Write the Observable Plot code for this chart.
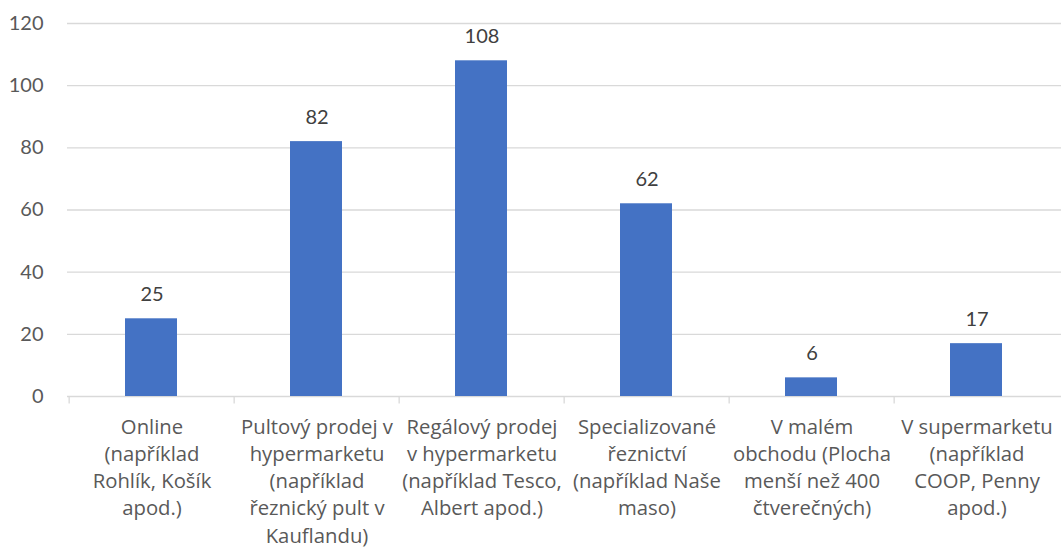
<!DOCTYPE html>
<html><head><meta charset="utf-8">
<script src="https://cdn.jsdelivr.net/npm/d3@7"></script>
<script src="https://cdn.jsdelivr.net/npm/@observablehq/plot@0.6"></script>
<style>body{margin:0;background:#fff;} svg{display:block;}</style>
</head><body><div id="chart"></div>
<script>
const categories = [
  "Online\n(například\nRohlík, Košík\napod.)",
  "Pultový prodej v\nhypermarketu\n(například\nřeznický pult v\nKauflandu)",
  "Regálový prodej\nv hypermarketu\n(například Tesco,\nAlbert apod.)",
  "Specializované\nřeznictví\n(například Naše\nmaso)",
  "V malém\nobchodu (Plocha\nmenší než 400\nčtverečných)",
  "V supermarketu\n(například\nCOOP, Penny\napod.)"
];
const values = [25, 82, 108, 62, 6, 17];
const yTicks = [0, 20, 40, 60, 80, 100, 120];

const data = categories.map((c, i) => ({cat: c, value: values[i]}));
const W = 1061, H = 555, mL = 67, mR = 0;
const band = (W - mL - mR) / categories.length;
const font = "Lato, 'Open Sans', sans-serif";

const chart = Plot.plot({
  width: W, height: H,
  marginLeft: mL, marginRight: mR, marginTop: 23, marginBottom: 159,
  style: {fontFamily: font, fontSize: "20px", color: "#595959", background: "#fff"},
  x: {domain: categories, padding: 0, axis: null},
  y: {domain: [0, 120], ticks: yTicks, tickSize: 0, tickPadding: 24, label: null},
  marks: [
    Plot.ruleY(yTicks, {stroke: "#d9d9d9", strokeWidth: 1.3}),
    Plot.ruleX(categories, {x: d => d, dx: -band / 2, y1: 0, y2: -2.4, stroke: "#d9d9d9", strokeWidth: 1.3}),
    Plot.barY(data, {x: "cat", y: "value", fill: "#4472c4", insetLeft: 56, insetRight: 57}),
    Plot.text(data, {x: "cat", y: "value", text: d => String(d.value), dy: -24, fill: "#404040", fontSize: 20, lineAnchor: "middle"}),
    Plot.text(data, {x: "cat", y: 0, text: "cat", dy: 18, lineAnchor: "top", lineHeight: 1.34, fill: "#595959", fontSize: 20.3, fontFamily: "'Open Sans', sans-serif"})
  ]
});
document.getElementById("chart").appendChild(chart);
</script>
</body></html>
